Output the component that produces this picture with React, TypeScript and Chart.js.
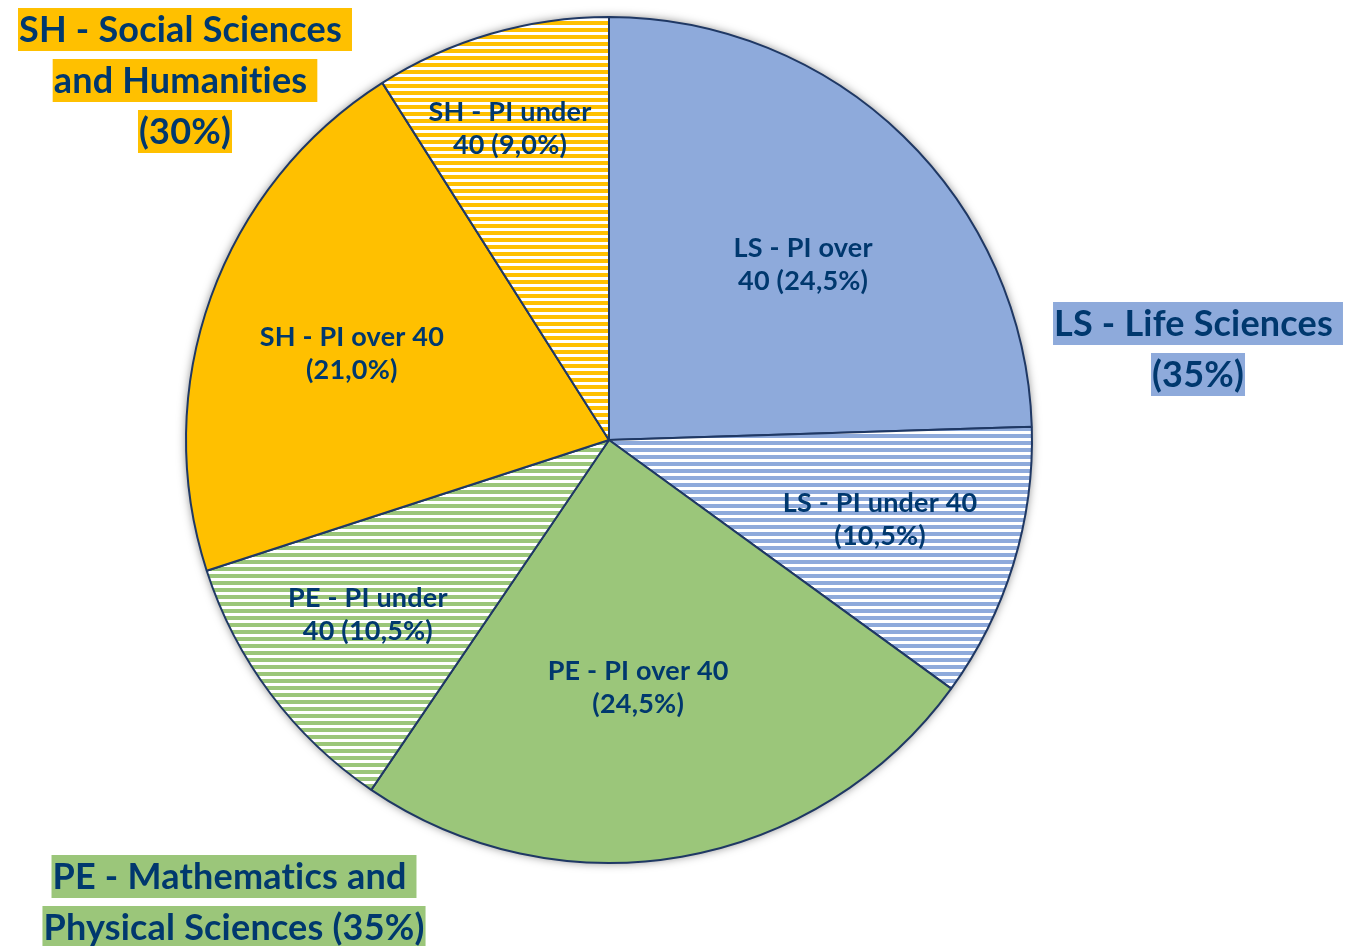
import React, { useEffect, useRef } from "react";
import { Chart, registerables } from "chart.js";
Chart.register(...registerables);

// ---- data ----
const sliceNames = [
  "LS - PI over 40",
  "LS - PI under 40",
  "PE - PI over 40",
  "PE - PI under 40",
  "SH - PI over 40",
  "SH - PI under 40",
];
const sliceShares = [24.5, 10.5, 24.5, 10.5, 21.0, 9.0];
const sliceLabelLines = [
  ["LS - PI over", "40 (24,5%)"],
  ["LS - PI under 40", "(10,5%)"],
  ["PE - PI over 40", "(24,5%)"],
  ["PE - PI under", "40 (10,5%)"],
  ["SH - PI over 40", "(21,0%)"],
  ["SH - PI under", "40 (9,0%)"],
];
const groupLines = [
  ["SH - Social Sciences ", "and Humanities ", "(30%)"],
  ["LS - Life Sciences ", "(35%)"],
  ["PE - Mathematics and ", "Physical Sciences (35%)"],
];

// ---- styles / layout ----
const LS = "#8eaadb";
const PE = "#9bc67a";
const SH = "#ffc000";
const sliceColors = [LS, LS, PE, PE, SH, SH];
const sliceHatched = [false, true, false, true, false, true];
// label offset from pie centre, in units of the radius
const labelOffset = [
  [0.459, -0.414],
  [0.641, 0.189],
  [0.069, 0.586],
  [-0.57, 0.414],
  [-0.608, -0.203],
  [-0.234, -0.735],
];
const groupColors = [SH, LS, PE];
const groupAnchors = [
  { x: 185, y: 29 },
  { x: 1198, y: 323 },
  { x: 234, y: 876 },
];
const TEXT = "#00386e";
const FONT_FAMILY = 'Lato, "Open Sans", sans-serif';

function stripe(color: string): CanvasPattern | string {
  const c = document.createElement("canvas");
  c.width = 8;
  c.height = 7;
  const g = c.getContext("2d");
  if (!g) return color;
  g.fillStyle = "#ffffff";
  g.fillRect(0, 0, 8, 7);
  g.fillStyle = color;
  g.fillRect(0, 0, 8, 4);
  const p = g.createPattern(c, "repeat");
  return p || color;
}

export default function App() {
  const ref = useRef<HTMLCanvasElement | null>(null);
  useEffect(() => {
    if (!ref.current) return;
    const bg = sliceColors.map((c, i) => (sliceHatched[i] ? stripe(c) : c));

    const shadowPlugin = {
      id: "pieShadow",
      beforeDatasetsDraw(chart: any) {
        const arc = chart.getDatasetMeta(0).data[0];
        if (!arc) return;
        const ctx = chart.ctx;
        ctx.save();
        ctx.shadowColor = "rgba(0,0,0,0.5)";
        ctx.shadowBlur = 10;
        ctx.fillStyle = "#ffffff";
        ctx.beginPath();
        ctx.arc(arc.x, arc.y, arc.outerRadius, 0, Math.PI * 2);
        ctx.fill();
        ctx.restore();
      },
    };

    const labelPlugin = {
      id: "pieLabels",
      afterDatasetsDraw(chart: any) {
        const ctx = chart.ctx;
        const meta = chart.getDatasetMeta(0);
        ctx.save();
        try {
          (ctx as any).letterSpacing = "0.2px";
        } catch (e) {
          /* ignore */
        }
        ctx.textAlign = "center";
        ctx.textBaseline = "middle";
        ctx.fillStyle = TEXT;
        ctx.font = `bold 27px ${FONT_FAMILY}`;
        meta.data.forEach((arc: any, i: number) => {
          const cx = arc.x + labelOffset[i][0] * arc.outerRadius;
          const cy = arc.y + labelOffset[i][1] * arc.outerRadius;
          const lines = sliceLabelLines[i];
          const lh = 33;
          lines.forEach((t, k) => {
            ctx.fillText(t, cx, cy + (k - (lines.length - 1) / 2) * lh);
          });
        });
        // group labels with highlight
        ctx.font = `bold 36px ${FONT_FAMILY}`;
        groupLines.forEach((lines, g) => {
          const a = groupAnchors[g];
          lines.forEach((t, k) => {
            const y = a.y + k * 51;
            const w = ctx.measureText(t).width;
            ctx.fillStyle = groupColors[g];
            ctx.fillRect(a.x - w / 2 - 1, y - 21, w + 2, 43);
            ctx.fillStyle = TEXT;
            ctx.fillText(t, a.x, y + 1);
          });
        });
        ctx.restore();
      },
    };

    const chart = new Chart(ref.current, {
      type: "pie",
      data: {
        labels: sliceNames,
        datasets: [
          {
            data: sliceShares,
            backgroundColor: bg as any,
            borderColor: "#1f3864",
            borderWidth: 2,
          },
        ],
      },
      options: {
        responsive: false,
        animation: false,
        layout: { padding: { left: 185, right: 332, top: 16, bottom: 82 } },
        plugins: {
          legend: { display: false },
          tooltip: { enabled: false },
        },
      },
      plugins: [shadowPlugin, labelPlugin],
    });
    return () => chart.destroy();
  }, []);

  return (
    <div style={{ position: "absolute", left: 0, top: 0, width: 1365, height: 946, background: "#fff" }}>
      <canvas ref={ref} width={1365} height={946} style={{ display: "block" }} />
    </div>
  );
}
